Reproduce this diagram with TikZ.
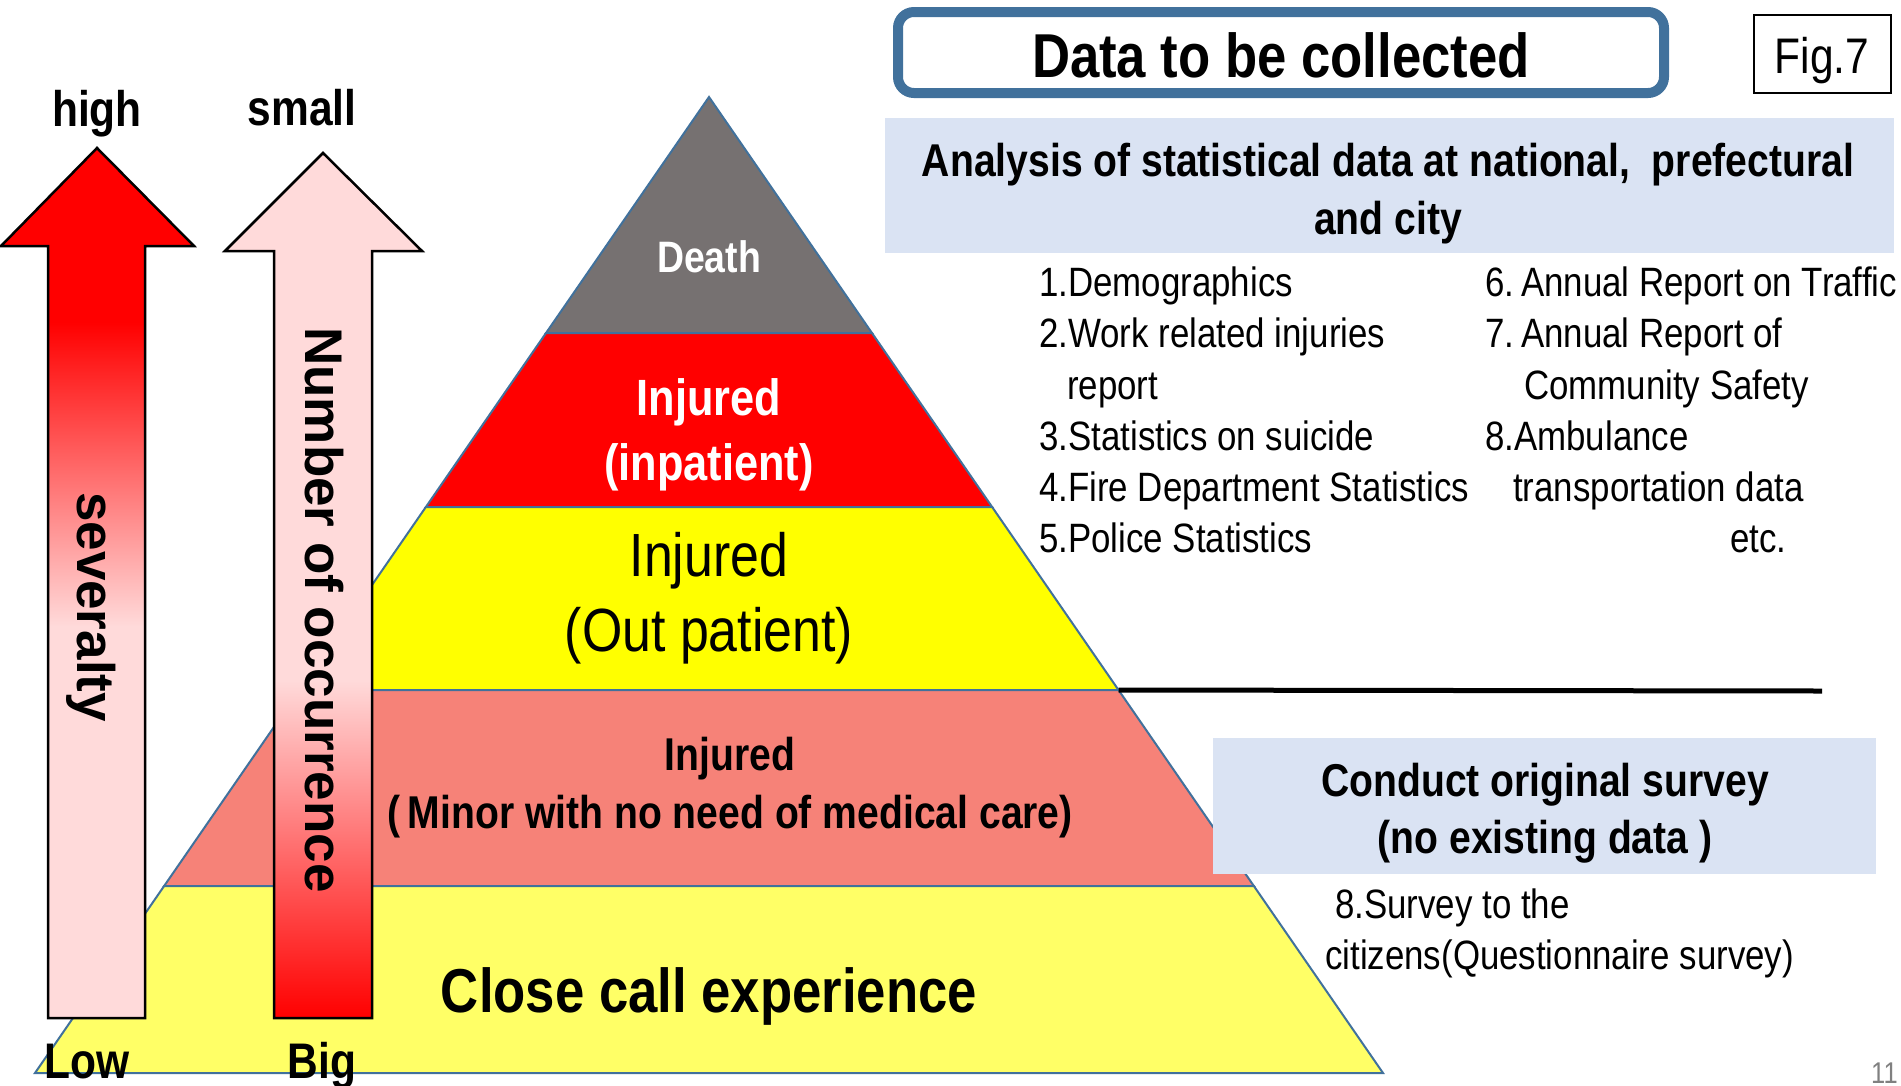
\documentclass[tikz,border=0pt]{standalone}
\usepackage{fontspec}
\setmainfont{Liberation Sans}
\newfontfamily\narrowfont[FakeStretch=0.85]{Liberation Sans}
\usetikzlibrary{calc}
\definecolor{pyrblue}{RGB}{65,113,156}
\definecolor{deathgray}{RGB}{118,113,113}
\definecolor{bandred}{RGB}{255,0,0}
\definecolor{bandyellow}{RGB}{255,255,0}
\definecolor{salmonfill}{RGB}{246,130,120}
\definecolor{paleyellow}{RGB}{255,255,102}
\definecolor{boxblue}{RGB}{218,227,243}
\definecolor{pinkfill}{RGB}{255,218,218}
\pgfdeclareverticalshading{sevshade}{100bp}{color(0bp)=(pinkfill); color(47.5bp)=(pinkfill); color(65bp)=(bandred); color(100bp)=(bandred)}
\pgfdeclareverticalshading{numshade}{100bp}{color(0bp)=(bandred); color(25bp)=(bandred); color(44.5bp)=(pinkfill); color(100bp)=(pinkfill)}
\tikzset{band/.style={draw=pyrblue, line width=2pt}}
\tikzset{shaft/.style={draw=black, line width=2.5pt}}
\tikzset{bt/.style 2 args={font=\narrowfont\bfseries\fontsize{#1}{#2}\selectfont, inner sep=0pt}}
\tikzset{rt/.style 2 args={font=\narrowfont\fontsize{#1}{#2}\selectfont, inner sep=0pt}}
\tikzset{lst/.style={rt={41}{51}, anchor=base west}}
\tikzset{wide/.style={font=\bfseries\fontsize{53}{53}\selectfont, inner sep=0pt, rotate=-90}}

\begin{document}
\begin{tikzpicture}[x=1pt, y=-1pt]
  \useasboundingbox (0,0) rectangle (1901,1085);
  % pyramid
  \coordinate (apex) at (709,97);
  \coordinate (bl) at (35,1073);
  \coordinate (br) at (1383,1073);
  \coordinate (l1) at ($(apex)!0.2418!(bl)$);
  \coordinate (r1) at ($(apex)!0.2418!(br)$);
  \coordinate (l2) at ($(apex)!0.4201!(bl)$);
  \coordinate (r2) at ($(apex)!0.4201!(br)$);
  \coordinate (l3) at ($(apex)!0.6076!(bl)$);
  \coordinate (r3) at ($(apex)!0.6076!(br)$);
  \coordinate (l4) at ($(apex)!0.8084!(bl)$);
  \coordinate (r4) at ($(apex)!0.8084!(br)$);
  \filldraw[band, fill=deathgray] (apex) -- (r1) -- (l1) -- cycle;
  \filldraw[band, fill=bandred] (l1) -- (r1) -- (r2) -- (l2) -- cycle;
  \filldraw[band, fill=bandyellow] (l2) -- (r2) -- (r3) -- (l3) -- cycle;
  \filldraw[band, fill=salmonfill] (l3) -- (r3) -- (r4) -- (l4) -- cycle;
  \filldraw[band, fill=paleyellow] (l4) -- (r4) -- (br) -- (bl) -- cycle;
  \node[bt={44}{44}, white] (death) at (709,257) {Death};
  \node[bt={51}{65}, white, align=center] (inpat) at (709,435) {Injured\\(inpatient)};
  \node[rt={61}{75}, align=center] (outpat) at (709,598) {Injured\\(Out patient)};
  \node[bt={46}{58}, align=center] (minor) at (730,788) {Injured\\(\,Minor with no need of medical care)};
  \node[bt={62}{62}, anchor=base] (close) at (709,1012) {Close call experience};

  % divider
  \coordinate (lineend) at (1822,691);
  \draw[line width=5pt] (r3) -- (lineend);

  % arrows
  \shadedraw[shaft, shading=sevshade] (48,1018) -- (48,246) -- (1,246) -- (97,148)
    -- (194,246) -- (145,246) -- (145,1018) -- cycle;
  \shadedraw[shaft, shading=numshade] (274,1018) -- (274,251) -- (225,251) -- (323,153)
    -- (422,251) -- (372,251) -- (372,1018) -- cycle;
  \node[wide] (sev) at (91,607) {severalty};
  \node[wide] (num) at (324,610) {Number of occurrence};
  \node[bt={50}{50}, anchor=base] (high) at (97,126) {high};
  \node[bt={50}{50}, anchor=base] (small) at (302,125) {small};
  \node[bt={50}{50}, anchor=base] (low) at (87,1078) {Low};
  \node[bt={50}{50}, anchor=base] (big) at (322,1078) {Big};

  % headings
  \draw[pyrblue, fill=white, line width=10pt, rounded corners=16pt] (898,12) rectangle (1664,93);
  \node[bt={62}{62}] (title) at (1281,55) {Data to be collected};
  \draw[line width=2.5pt] (1754,15) rectangle (1891,93);
  \node[rt={50}{50}, anchor=base] (fig) at (1822,73) {Fig.7};
  \fill[boxblue] (885,118) rectangle (1894,253);
  \node[bt={46}{58}, align=center] (stats) at (1388,194) {Analysis of statistical data at national,\ \ prefectural\\and city};

  % statistics list
  \node[lst] (d1) at (1039,296) {1.Demographics};
  \node[lst] (d2) at (1039,347) {2.Work related injuries};
  \node[lst] (d2b) at (1067,399) {report};
  \node[lst] (d3) at (1039,450) {3.Statistics on suicide};
  \node[lst] (d4) at (1039,501) {4.Fire Department Statistics};
  \node[lst] (d5) at (1039,552) {5.Police Statistics};
  \node[lst] (d6) at (1485,296) {6.\,Annual Report on Traffic};
  \node[lst] (d7) at (1485,347) {7.\,Annual Report of};
  \node[lst] (d7b) at (1524,399) {Community Safety};
  \node[lst] (d8) at (1485,450) {8.Ambulance};
  \node[lst] (d8b) at (1513,501) {transportation data};
  \node[lst] (etc) at (1730,552) {etc.};

  % survey
  \fill[boxblue] (1213,738) rectangle (1876,874);
  \node[bt={46}{57}, align=center] (survey) at (1545,813) {Conduct original survey\\(no existing data )};
  \node[lst] (s8) at (1335,918) {8.Survey to the};
  \node[lst] (s8b) at (1325,969) {citizens(Questionnaire survey)};

  \node[rt={30}{30}, gray, anchor=north west] (page) at (1871,1063) {11};
\end{tikzpicture}
\end{document}
